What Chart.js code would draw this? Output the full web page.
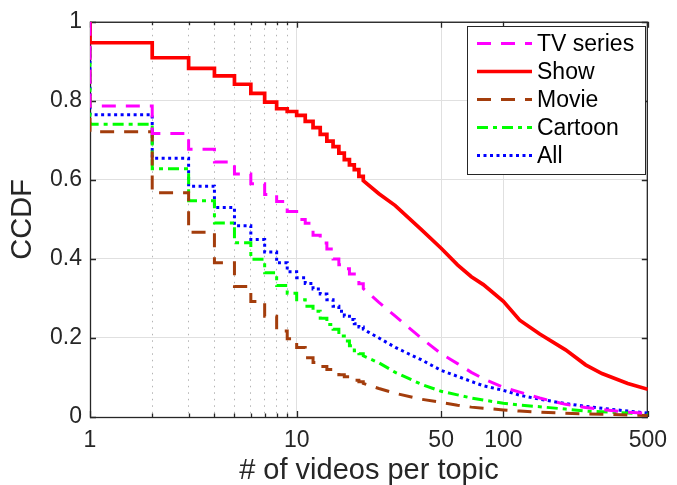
<!DOCTYPE html>
<html>
<head>
<meta charset="utf-8">
<script src="https://cdn.jsdelivr.net/npm/chart.js@4"></script>
<style>
  html, body { margin: 0; padding: 0; background: #fff; }
  #wrap { width: 677px; height: 485px; }
</style>
</head>
<body>
<div id="wrap"><canvas id="ccdf" width="677" height="485"></canvas></div>
<script>
// step part: value held on [x, x+1)
const stepX = [1, 2, 3, 4, 5, 6, 7, 8, 9, 10, 11, 12, 13, 14, 15, 16, 17, 18, 19, 20];
const tailX = [21, 25, 30, 40, 50, 60, 70, 80, 100, 120, 150, 200, 250, 300, 400, 500];

const tvStep = [0.787, 0.7175, 0.6775, 0.645, 0.615, 0.59, 0.563, 0.545, 0.52, 0.5, 0.49, 0.46, 0.44, 0.425, 0.4, 0.385, 0.375, 0.362, 0.35, 0.337];
const tvTail = [0.325, 0.29, 0.255, 0.2, 0.16, 0.135, 0.113, 0.097, 0.075, 0.063, 0.048, 0.032, 0.024, 0.019, 0.012, 0.009];

const showStep = [0.947, 0.909, 0.882, 0.863, 0.842, 0.819, 0.797, 0.78, 0.773, 0.763, 0.748, 0.732, 0.715, 0.698, 0.684, 0.6675, 0.651, 0.638, 0.626, 0.609];
const showTail = [0.598, 0.565, 0.535, 0.475, 0.427, 0.385, 0.355, 0.335, 0.2925, 0.245, 0.21, 0.17, 0.132, 0.11, 0.085, 0.07];

const movieStep = [0.722, 0.5675, 0.4675, 0.39, 0.33, 0.2925, 0.255, 0.2175, 0.198, 0.176, 0.15, 0.138, 0.128, 0.12, 0.113, 0.107, 0.102, 0.097, 0.093, 0.089];
const movieTail = [0.085, 0.072, 0.06, 0.045, 0.037, 0.03, 0.025, 0.022, 0.018, 0.015, 0.012, 0.0095, 0.008, 0.007, 0.005, 0.004];

const cartoonStep = [0.741, 0.628, 0.547, 0.491, 0.441, 0.399, 0.365, 0.3325, 0.313, 0.297, 0.28, 0.2675, 0.25, 0.234, 0.222, 0.205, 0.1925, 0.18, 0.1675, 0.16];
const cartoonTail = [0.155, 0.137, 0.113, 0.083, 0.065, 0.056, 0.048, 0.043, 0.035, 0.03, 0.026, 0.02, 0.015, 0.013, 0.01, 0.007];

const allStep = [0.765, 0.655, 0.584, 0.53, 0.484, 0.449, 0.4175, 0.39, 0.3675, 0.3525, 0.338, 0.324, 0.311, 0.297, 0.28, 0.2675, 0.255, 0.247, 0.236, 0.2275];
const allTail = [0.222, 0.2, 0.176, 0.145, 0.118, 0.103, 0.09, 0.079, 0.0675, 0.055, 0.045, 0.034, 0.027, 0.022, 0.015, 0.01];

const xTicks = [1, 2, 3, 4, 5, 6, 7, 8, 9, 10, 50, 100, 500];
const xLabels = [1, 10, 50, 100, 500];
const minorX = [2, 3, 4, 5, 6, 7, 8, 9];

const axisColor = "#262626";
const fontFamily = "'Liberation Sans', Arial, Helvetica, sans-serif";

function ccdfPoints(stepY, tailY) {
  const pts = [{ x: 1, y: 1 }];
  stepY.forEach((y, i) => {
    pts.push({ x: stepX[i], y });
    const next = i + 1 < stepX.length ? stepX[i + 1] : tailX[0];
    pts.push({ x: next, y });
  });
  tailX.forEach((x, i) => pts.push({ x, y: tailY[i] }));
  return pts;
}

function series(label, stepY, tailY, color, width, dash) {
  return {
    label,
    data: ccdfPoints(stepY, tailY),
    borderColor: color,
    borderWidth: width,
    borderDash: dash,
    pointRadius: 0,
    tension: 0,
    fill: false,
  };
}

const datasets = [
  series("TV series", tvStep, tvTail, "#ff00ff", 3, [14, 10]),
  series("Show", showStep, showTail, "#ff0000", 3.7, []),
  series("Movie", movieStep, movieTail, "#a33d0c", 3, [14, 10]),
  series("Cartoon", cartoonStep, cartoonTail, "#00ff00", 3, [11, 5, 4, 5]),
  series("All", allStep, allTail, "#0000ff", 3, [3, 3.5]),
];

// MATLAB-like box with inward ticks, drawn under the data
const framePlugin = {
  id: "frame",
  beforeDatasetsDraw(chart) {
    const { ctx, chartArea: a, scales } = chart;
    ctx.save();
    ctx.strokeStyle = axisColor;
    ctx.lineWidth = 1.3;
    ctx.strokeRect(a.left + 0.5, a.top + 0.5, a.right - a.left - 1, a.bottom - a.top);
    ctx.beginPath();
    xTicks.forEach((v) => {
      const px = Math.round(scales.x.getPixelForValue(v)) + 0.5;
      const len = minorX.includes(v) ? 3.5 : 6;
      ctx.moveTo(px, a.bottom);
      ctx.lineTo(px, a.bottom - len);
      ctx.moveTo(px, a.top);
      ctx.lineTo(px, a.top + len);
    });
    scales.y.ticks.forEach((t) => {
      const py = Math.round(scales.y.getPixelForValue(t.value)) + 0.5;
      ctx.moveTo(a.left, py);
      ctx.lineTo(a.left + 6, py);
      ctx.moveTo(a.right, py);
      ctx.lineTo(a.right - 6, py);
    });
    ctx.stroke();
    ctx.restore();
  },
};

// legend box in upper right
const legendPlugin = {
  id: "boxLegend",
  afterDatasetsDraw(chart) {
    const { ctx } = chart;
    const bx = 467, by = 26, bw = 178, bh = 148;
    ctx.save();
    ctx.fillStyle = "#fff";
    ctx.fillRect(bx, by, bw, bh);
    ctx.strokeStyle = axisColor;
    ctx.lineWidth = 1;
    ctx.strokeRect(bx + 0.5, by + 0.5, bw, bh);
    ctx.font = "23px " + fontFamily;
    ctx.textBaseline = "middle";
    chart.data.datasets.forEach((ds, i) => {
      const y = 43.5 + i * 28;
      ctx.beginPath();
      ctx.strokeStyle = ds.borderColor;
      ctx.lineWidth = ds.borderWidth;
      ctx.setLineDash(ds.borderDash);
      ctx.moveTo(477, y);
      ctx.lineTo(532, y);
      ctx.stroke();
      ctx.setLineDash([]);
      ctx.fillStyle = "#000";
      ctx.fillText(ds.label, 537, y + 1);
    });
    ctx.restore();
  },
};

new Chart(document.getElementById("ccdf"), {
  type: "line",
  data: { datasets },
  options: {
    responsive: false,
    animation: false,
    layout: { padding: { top: 17, right: 22, left: 0, bottom: 0 } },
    plugins: { legend: { display: false }, tooltip: { enabled: false } },
    scales: {
      x: {
        type: "logarithmic",
        min: 1,
        max: 500,
        afterBuildTicks: (scale) => {
          scale.ticks = xTicks.map((v) => ({ value: v }));
        },
        afterFit: (scale) => {
          scale.height = 68;
        },
        ticks: {
          autoSkip: false,
          maxRotation: 0,
          padding: 10,
          color: axisColor,
          font: { size: 23, family: fontFamily },
          callback: (v) => (xLabels.includes(v) ? String(v) : ""),
        },
        grid: {
          drawTicks: false,
          color: (c) => (c.tick && minorX.includes(c.tick.value) ? "#b4b4b4" : "#e0e0e0"),
          lineWidth: 1,
        },
        border: {
          display: false,
          dash: (c) => (c.tick && minorX.includes(c.tick.value) ? [1.5, 5] : []),
        },
        title: {
          display: true,
          text: "# of videos per topic",
          color: axisColor,
          font: { size: 29, family: fontFamily },
          padding: { top: 0, bottom: -3 },
        },
      },
      y: {
        min: 0,
        max: 1,
        afterFit: (scale) => {
          scale.width = 90;
        },
        ticks: {
          stepSize: 0.2,
          padding: 8,
          color: axisColor,
          font: { size: 23, family: fontFamily },
          callback: (v) => String(Math.round(v * 10) / 10),
        },
        grid: { drawTicks: false, color: "#e0e0e0", lineWidth: 1 },
        border: { display: false },
        title: {
          display: true,
          text: "CCDF",
          color: axisColor,
          font: { size: 29, family: fontFamily },
          padding: { top: 6, bottom: 0 },
        },
      },
    },
  },
  plugins: [framePlugin, legendPlugin],
});
</script>
</body>
</html>
